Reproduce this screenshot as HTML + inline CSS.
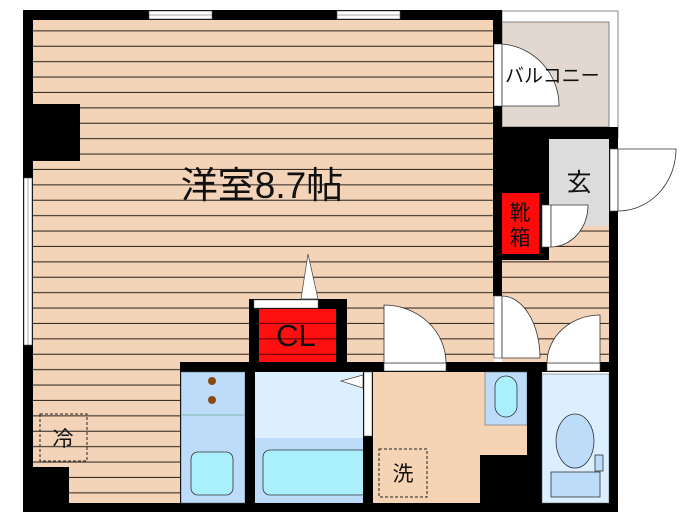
<!DOCTYPE html>
<html><head><meta charset="utf-8"><style>
html,body{margin:0;padding:0;background:#fff;width:700px;height:525px;overflow:hidden}
svg{display:block}
text{font-family:"Liberation Sans","Noto Sans CJK JP",sans-serif}
</style></head><body>
<svg width="700" height="525" viewBox="0 0 700 525" xmlns="http://www.w3.org/2000/svg">
<defs>
<pattern id="wood" x="0" y="16" width="10" height="15.4" patternUnits="userSpaceOnUse">
<rect width="10" height="15.4" fill="#f4d4b8"/>
<rect y="14.3" width="10" height="1.4" fill="#3a3028"/>
</pattern>
<pattern id="woodr" x="0" y="16" width="10" height="15.4" patternUnits="userSpaceOnUse">
<rect width="10" height="15.4" fill="#ff1010"/>
<rect y="14.3" width="10" height="1.2" fill="#600"/>
</pattern>
</defs>
<rect x="33" y="20" width="461" height="484" fill="url(#wood)"/>
<rect x="502" y="226" width="108" height="136" fill="url(#wood)"/>
<rect x="502" y="11" width="116" height="127" fill="#fff" stroke="#888" stroke-width="1"/>
<rect x="502" y="22" width="107" height="105" fill="#e3d8cf" stroke="#666" stroke-width="0.8"/>
<rect x="23" y="10" width="479" height="10" fill="#000"/>
<rect x="23" y="10" width="10" height="502" fill="#000"/>
<rect x="23" y="503" width="595" height="9" fill="#000"/>
<rect x="493" y="10" width="9" height="286" fill="#000"/>
<rect x="493" y="127" width="125" height="12" fill="#000"/>
<rect x="493" y="127" width="56" height="133" fill="#000"/>
<rect x="609" y="127" width="9" height="385" fill="#000"/>
<rect x="149" y="11" width="63" height="8" fill="#fff" stroke="#555" stroke-width="0.6"/>
<line x1="149" y1="15" x2="212" y2="15" stroke="#555" stroke-width="0.6"/>
<rect x="337" y="11" width="63" height="8" fill="#fff" stroke="#555" stroke-width="0.6"/>
<line x1="337" y1="15" x2="400" y2="15" stroke="#555" stroke-width="0.6"/>
<rect x="24" y="178" width="8" height="167" fill="#fff" stroke="#555" stroke-width="0.6"/>
<line x1="28" y1="178" x2="28" y2="345" stroke="#777" stroke-width="0.6"/>
<rect x="33" y="104" width="47" height="57" fill="#000"/>
<rect x="33" y="467" width="36" height="40" fill="#000"/>
<rect x="494" y="44" width="8" height="62" fill="#fff" stroke="#444" stroke-width="0.6"/>
<path d="M502 44 A62 62 0 0 1 559 106 L502 106 Z" fill="#fff" stroke="#333" stroke-width="0.8"/>
<text x="505" y="82" font-size="19" fill="#111">バルコニー</text>
<rect x="549" y="139" width="60" height="87" fill="#dcdcdc"/>
<text x="579" y="191" font-size="25" text-anchor="middle" fill="#111">玄</text>
<rect x="610" y="149" width="8" height="62" fill="#fff" stroke="#444" stroke-width="0.6"/>
<path d="M618 149 L676 149 A58 62 0 0 1 618 211 Z" fill="#fff" stroke="#333" stroke-width="0.8"/>
<rect x="502" y="193" width="37" height="61" fill="#ff0a0a"/>
<text x="520" y="220" font-size="21" text-anchor="middle" fill="#111">靴</text>
<text x="520" y="245" font-size="21" text-anchor="middle" fill="#111">箱</text>
<rect x="542" y="205" width="9" height="42" fill="#fff" stroke="#444" stroke-width="0.6"/>
<path d="M551 205 L588 205 A37 42 0 0 1 551 247 Z" fill="#fff" stroke="#333" stroke-width="0.8"/>
<rect x="180" y="362" width="438" height="10" fill="#000"/>
<rect x="249" y="299" width="98" height="70" fill="#000"/>
<rect x="259" y="309" width="77" height="53" fill="url(#woodr)"/>
<rect x="254" y="300" width="64" height="8" fill="#fff" stroke="#666" stroke-width="0.5"/>
<path d="M308 254 L301 299 L318 299 Z" fill="#fff" stroke="#444" stroke-width="0.7"/>
<text x="296" y="346" font-size="31" text-anchor="middle" fill="#111">CL</text>
<rect x="180" y="362" width="3" height="150" fill="#000"/>
<rect x="181" y="372" width="64" height="131" fill="#bcdcfa" stroke="#555" stroke-width="0.5"/>
<line x1="181" y1="415" x2="245" y2="415" stroke="#7a9" stroke-width="0.8"/>
<circle cx="212" cy="381" r="4" fill="#8a4a10"/>
<circle cx="212" cy="400" r="4" fill="#8a4a10"/>
<rect x="191" y="452" width="42" height="43" rx="7" fill="#aaf0fc" stroke="#333" stroke-width="0.8"/>
<rect x="245" y="362" width="10" height="150" fill="#000"/>
<rect x="255" y="372" width="109" height="131" fill="#dcefff"/>
<rect x="255" y="438" width="109" height="65" fill="#bcdcfa"/>
<rect x="263" y="450" width="105" height="45" rx="7" fill="#aaf0fc" stroke="#333" stroke-width="0.8"/>
<path d="M341 381 L363 375 L363 388 Z" fill="#fff" stroke="#444" stroke-width="0.7"/>
<rect x="363" y="372" width="10" height="140" fill="#000"/>
<rect x="364" y="372" width="8" height="64" fill="#fff" stroke="#444" stroke-width="0.5"/>
<rect x="373" y="372" width="154" height="131" fill="#f5d3b5"/>
<rect x="485" y="372" width="42" height="53" fill="#bcdcfa" stroke="#555" stroke-width="0.5"/>
<rect x="495" y="376" width="22" height="41" rx="11" fill="#aaf0fc" stroke="#333" stroke-width="0.8"/>
<rect x="480" y="455" width="50" height="57" fill="#000"/>
<rect x="527" y="362" width="15" height="150" fill="#000"/>
<rect x="542" y="374" width="67" height="129" fill="#dcefff" stroke="#555" stroke-width="0.5"/>
<ellipse cx="575" cy="441" rx="19" ry="27" fill="#bcdcfa" stroke="#333" stroke-width="0.8"/>
<rect x="551" y="472" width="49" height="25" fill="#bcdcfa" stroke="#333" stroke-width="0.8"/>
<rect x="595" y="455" width="8" height="16" fill="#bcdcfa" stroke="#333" stroke-width="0.8"/>
<rect x="384" y="363" width="62" height="8" fill="#fff" stroke="#444" stroke-width="0.6"/>
<path d="M384 363 L384 305 A62 58 0 0 1 446 363 Z" fill="#fff" stroke="#333" stroke-width="0.8"/>
<rect x="494" y="296" width="8" height="62" fill="#fff" stroke="#444" stroke-width="0.6"/>
<path d="M502 296 A38 62 0 0 1 540 358 L502 358 Z" fill="#fff" stroke="#333" stroke-width="0.8"/>
<rect x="547" y="363" width="53" height="8" fill="#fff" stroke="#444" stroke-width="0.6"/>
<path d="M600 363 L600 315 A53 48 0 0 0 547 363 Z" fill="#fff" stroke="#333" stroke-width="0.8"/>
<rect x="40" y="414" width="47" height="47" fill="none" stroke="#222" stroke-width="1" stroke-dasharray="3,2"/>
<text x="63" y="446" font-size="21" text-anchor="middle" fill="#111">冷</text>
<rect x="379" y="449" width="48" height="48" fill="none" stroke="#222" stroke-width="1" stroke-dasharray="3,2"/>
<text x="403" y="481" font-size="21" text-anchor="middle" fill="#111">洗</text>
<text x="262" y="198" font-size="37" text-anchor="middle" fill="#111">洋室8.7帖</text>
</svg>
</body></html>
